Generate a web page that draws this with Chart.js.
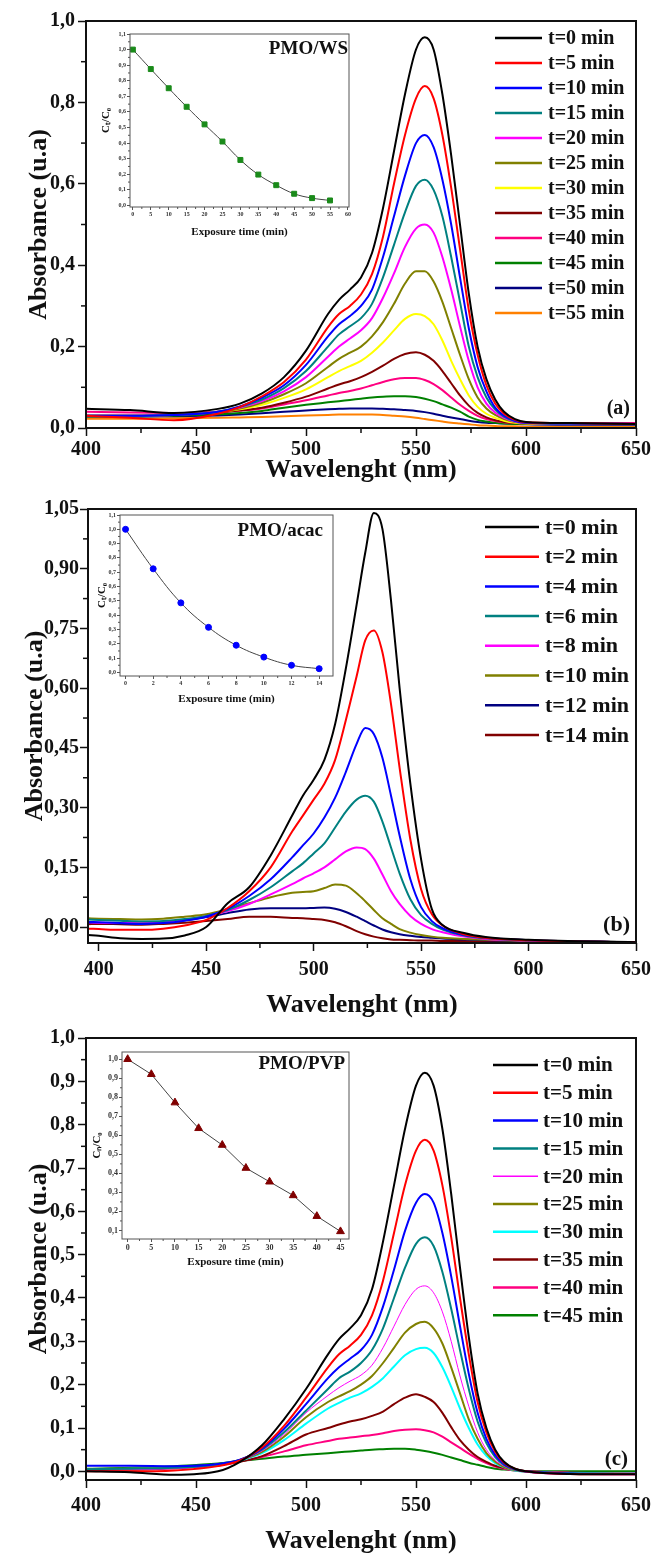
<!DOCTYPE html>
<html><head><meta charset="utf-8">
<script src="https://cdn.jsdelivr.net/npm/chart.js@4.4.1/dist/chart.umd.min.js"></script>
<style>
html,body{margin:0;padding:0;background:#fff;overflow:hidden;}
#wrap{position:relative;width:652px;height:1560px;overflow:hidden;background:#fff;}
canvas{position:absolute;display:block;}
</style></head><body><div id="wrap">
<canvas id="ca" style="left:0;top:0" width="652" height="505"></canvas>
<canvas id="cb" style="left:0;top:490px" width="652" height="550"></canvas>
<canvas id="cc" style="left:0;top:1020px" width="652" height="540"></canvas>
<canvas id="ia" style="left:95px;top:24px" width="260" height="220"></canvas>
<canvas id="ib" style="left:95px;top:505px" width="245" height="205"></canvas>
<canvas id="ic" style="left:90px;top:1045px" width="265" height="230"></canvas>
</div>
<script>
// ---------------- DATA ----------------
// Panel (a) PMO/WS
const WL_A = [400,420,440,460,470,480,490,500,510,515,520,525,530,535,540,545,550,554,558,562,566,570,574,578,582,586,590,595,600,620,650];
const A_0  = [0.047,0.044,0.037,0.047,0.060,0.085,0.125,0.190,0.280,0.315,0.340,0.370,0.430,0.540,0.680,0.820,0.930,0.960,0.930,0.820,0.670,0.500,0.330,0.200,0.120,0.070,0.040,0.022,0.015,0.012,0.010];
const A_5  = [0.030,0.025,0.019,0.035,0.052,0.078,0.113,0.168,0.248,0.280,0.300,0.328,0.378,0.470,0.600,0.720,0.810,0.840,0.810,0.720,0.590,0.440,0.290,0.180,0.105,0.060,0.035,0.020,0.014,0.012,0.010];
const A_10 = [0.030,0.030,0.032,0.040,0.053,0.075,0.105,0.155,0.225,0.255,0.275,0.300,0.340,0.420,0.520,0.620,0.700,0.720,0.690,0.610,0.500,0.370,0.245,0.150,0.090,0.050,0.030,0.018,0.013,0.011,0.010];
const A_15 = [0.030,0.030,0.032,0.040,0.052,0.070,0.098,0.140,0.200,0.230,0.250,0.270,0.305,0.370,0.450,0.530,0.595,0.610,0.585,0.520,0.420,0.310,0.200,0.125,0.075,0.045,0.028,0.017,0.013,0.011,0.010];
const A_20 = [0.030,0.030,0.032,0.040,0.050,0.066,0.090,0.125,0.175,0.200,0.220,0.240,0.270,0.320,0.380,0.445,0.490,0.500,0.480,0.420,0.340,0.250,0.165,0.100,0.060,0.038,0.025,0.016,0.012,0.011,0.010];
const A_25 = [0.030,0.030,0.032,0.040,0.048,0.062,0.083,0.110,0.150,0.170,0.185,0.200,0.225,0.260,0.305,0.355,0.385,0.385,0.360,0.310,0.245,0.180,0.120,0.075,0.048,0.032,0.022,0.015,0.012,0.011,0.010];
const A_30 = [0.030,0.030,0.032,0.039,0.046,0.057,0.074,0.095,0.125,0.140,0.152,0.165,0.185,0.210,0.240,0.268,0.280,0.275,0.255,0.215,0.165,0.120,0.080,0.052,0.035,0.025,0.018,0.013,0.011,0.010,0.010];
const A_35 = [0.030,0.030,0.032,0.038,0.043,0.050,0.062,0.077,0.097,0.107,0.115,0.125,0.138,0.153,0.170,0.182,0.186,0.180,0.165,0.140,0.110,0.080,0.055,0.037,0.026,0.019,0.015,0.012,0.011,0.010,0.010];
const A_40 = [0.040,0.038,0.037,0.040,0.043,0.048,0.058,0.068,0.080,0.086,0.091,0.097,0.105,0.113,0.120,0.123,0.123,0.118,0.108,0.093,0.075,0.057,0.042,0.030,0.022,0.017,0.014,0.012,0.012,0.012,0.012];
const A_45 = [0.028,0.028,0.030,0.034,0.037,0.042,0.050,0.057,0.063,0.066,0.069,0.072,0.075,0.077,0.078,0.078,0.076,0.072,0.066,0.058,0.050,0.040,0.028,0.020,0.016,0.013,0.011,0.010,0.010,0.010,0.010];
const A_50 = [0.028,0.028,0.029,0.031,0.033,0.036,0.040,0.043,0.046,0.047,0.048,0.048,0.048,0.047,0.046,0.044,0.042,0.039,0.035,0.030,0.026,0.022,0.018,0.015,0.013,0.012,0.011,0.010,0.009,0.008,0.008];
const A_55 = [0.023,0.023,0.024,0.025,0.026,0.027,0.029,0.031,0.032,0.033,0.033,0.033,0.033,0.032,0.030,0.028,0.025,0.022,0.019,0.016,0.013,0.011,0.009,0.007,0.006,0.005,0.004,0.004,0.003,0.003,0.003];
const LABELS_A = ['t=0 min','t=5 min','t=10 min','t=15 min','t=20 min','t=25 min','t=30 min','t=35 min','t=40 min','t=45 min','t=50 min','t=55 min'];

// Panel (b) PMO/acac
const WL_B = [395,400,410,420,430,440,450,460,470,480,490,495,500,505,510,515,520,524,528,532,536,540,545,550,555,560,570,580,600,650];
const B_0  = [-0.020,-0.022,-0.028,-0.030,-0.029,-0.021,0.000,0.060,0.100,0.180,0.280,0.330,0.370,0.420,0.510,0.650,0.810,0.940,1.040,1.000,0.820,0.600,0.360,0.170,0.045,0.005,-0.015,-0.025,-0.032,-0.038];
const B_2  = [-0.004,-0.005,-0.007,-0.007,-0.004,0.004,0.018,0.048,0.090,0.150,0.240,0.280,0.320,0.360,0.420,0.520,0.630,0.720,0.745,0.690,0.560,0.400,0.220,0.095,0.032,0.004,-0.018,-0.027,-0.033,-0.038];
const B_4  = [0.013,0.012,0.010,0.008,0.010,0.016,0.026,0.046,0.078,0.120,0.175,0.205,0.235,0.275,0.325,0.390,0.460,0.500,0.485,0.425,0.330,0.230,0.120,0.050,0.015,-0.003,-0.020,-0.027,-0.033,-0.038];
const B_6  = [0.019,0.018,0.016,0.014,0.015,0.020,0.028,0.043,0.068,0.100,0.140,0.160,0.185,0.210,0.250,0.290,0.320,0.330,0.315,0.265,0.200,0.135,0.070,0.030,0.008,-0.006,-0.021,-0.028,-0.033,-0.038];
const B_8  = [0.012,0.011,0.010,0.010,0.012,0.018,0.027,0.040,0.058,0.082,0.108,0.122,0.135,0.150,0.170,0.190,0.200,0.196,0.172,0.132,0.090,0.058,0.028,0.008,-0.005,-0.013,-0.024,-0.030,-0.034,-0.038];
const B_10 = [0.022,0.021,0.020,0.019,0.021,0.026,0.032,0.045,0.060,0.075,0.086,0.088,0.090,0.098,0.107,0.104,0.085,0.065,0.043,0.022,0.008,-0.005,-0.014,-0.020,-0.024,-0.027,-0.030,-0.032,-0.035,-0.038];
const B_12 = [0.010,0.010,0.009,0.009,0.011,0.017,0.025,0.035,0.044,0.047,0.047,0.047,0.048,0.049,0.046,0.038,0.026,0.015,0.004,-0.006,-0.013,-0.018,-0.022,-0.025,-0.027,-0.029,-0.031,-0.033,-0.035,-0.038];
const B_14 = [0.007,0.008,0.007,0.006,0.008,0.011,0.015,0.020,0.026,0.026,0.023,0.022,0.020,0.018,0.012,0.002,-0.010,-0.018,-0.024,-0.028,-0.031,-0.032,-0.033,-0.034,-0.034,-0.035,-0.035,-0.036,-0.036,-0.038];
const LABELS_B = ['t=0 min','t=2 min','t=4 min','t=6 min','t=8 min','t=10 min','t=12 min','t=14 min'];

// Panel (c) PMO/PVP
const WL_C = [400,420,440,460,470,480,490,500,510,515,520,525,530,535,540,545,550,554,558,562,566,570,574,578,582,586,590,595,600,620,650];
const C_0  = [0.000,-0.002,-0.008,0.000,0.022,0.060,0.120,0.190,0.270,0.305,0.330,0.360,0.420,0.530,0.660,0.790,0.890,0.920,0.890,0.790,0.640,0.470,0.310,0.180,0.100,0.050,0.022,0.006,0.000,-0.006,-0.007];
const C_5  = [0.000,0.000,0.002,0.012,0.025,0.055,0.105,0.170,0.240,0.270,0.290,0.315,0.360,0.440,0.550,0.660,0.740,0.765,0.740,0.660,0.540,0.400,0.270,0.160,0.090,0.045,0.020,0.006,0.000,-0.006,-0.007];
const C_10 = [0.013,0.013,0.012,0.017,0.027,0.052,0.098,0.155,0.215,0.240,0.260,0.280,0.315,0.380,0.465,0.555,0.620,0.640,0.620,0.550,0.450,0.335,0.225,0.135,0.075,0.038,0.017,0.005,0.000,-0.005,-0.006];
const C_15 = [0.005,0.006,0.008,0.015,0.026,0.050,0.090,0.140,0.190,0.215,0.230,0.250,0.280,0.330,0.400,0.470,0.525,0.540,0.520,0.460,0.375,0.280,0.190,0.115,0.065,0.033,0.015,0.004,0.000,-0.005,-0.006];
const C_20 = [0.003,0.004,0.006,0.014,0.025,0.047,0.085,0.135,0.175,0.193,0.208,0.222,0.245,0.285,0.335,0.385,0.420,0.428,0.412,0.368,0.300,0.220,0.150,0.090,0.050,0.026,0.012,0.003,-0.002,-0.007,-0.008];
const C_25 = [0.005,0.006,0.008,0.015,0.026,0.045,0.080,0.125,0.160,0.173,0.185,0.200,0.220,0.250,0.285,0.320,0.340,0.345,0.330,0.295,0.240,0.180,0.120,0.075,0.042,0.022,0.010,0.003,-0.001,-0.005,-0.006];
const C_30 = [0.005,0.006,0.009,0.016,0.025,0.042,0.072,0.110,0.145,0.158,0.170,0.180,0.195,0.215,0.242,0.268,0.282,0.285,0.273,0.240,0.195,0.145,0.100,0.062,0.036,0.019,0.009,0.002,-0.001,-0.004,-0.005];
const C_35 = [0.003,0.004,0.007,0.015,0.022,0.035,0.058,0.085,0.100,0.108,0.115,0.120,0.128,0.138,0.155,0.170,0.178,0.172,0.160,0.135,0.102,0.072,0.050,0.033,0.022,0.013,0.008,0.003,0.000,-0.005,-0.006];
const C_40 = [0.003,0.005,0.008,0.016,0.023,0.033,0.046,0.060,0.070,0.075,0.078,0.081,0.084,0.088,0.093,0.096,0.097,0.095,0.090,0.080,0.067,0.054,0.041,0.029,0.019,0.011,0.006,0.002,0.000,-0.003,-0.004];
const C_45 = [0.006,0.008,0.012,0.018,0.024,0.029,0.034,0.038,0.042,0.044,0.046,0.048,0.050,0.051,0.052,0.052,0.050,0.047,0.043,0.038,0.032,0.026,0.020,0.015,0.010,0.006,0.004,0.002,0.001,0.000,0.000];
const LABELS_C = ['t=0 min','t=5 min','t=10 min','t=15 min','t=20 min','t=25 min','t=30 min','t=35 min','t=40 min','t=45 min'];

// Insets: C/C0 vs exposure time
const INA_T = [0,5,10,15,20,25,30,35,40,45,50,55];
const INA_C = [1.000,0.875,0.752,0.633,0.520,0.410,0.292,0.198,0.130,0.075,0.047,0.032];
const INB_T = [0,2,4,6,8,10,12,14];
const INB_C = [1.000,0.724,0.486,0.315,0.190,0.107,0.050,0.026];
const INC_T = [0,5,10,15,20,25,30,35,40,45];
const INC_C = [1.000,0.921,0.772,0.637,0.549,0.428,0.356,0.284,0.175,0.095];

// Tick values
const X_TICKS = [400,450,500,550,600,650];
const X_MINOR = [425,475,525,575,625];
const YA_TICKS = [0,0.2,0.4,0.6,0.8,1.0];
const YA_MINOR = [0.1,0.3,0.5,0.7,0.9];
const YB_TICKS = [0,0.15,0.30,0.45,0.60,0.75,0.90,1.05];
const YB_MINOR = [0.075,0.225,0.375,0.525,0.675,0.825,0.975];
const YC_TICKS = [0,0.1,0.2,0.3,0.4,0.5,0.6,0.7,0.8,0.9,1.0];
const YC_MINOR = [0.05,0.15,0.25,0.35,0.45,0.55,0.65,0.75,0.85,0.95];
const IA_XT = [0,5,10,15,20,25,30,35,40,45,50,55,60];
const IA_XM = [2.5,7.5,12.5,17.5,22.5,27.5,32.5,37.5,42.5,47.5,52.5,57.5];
const IA_YT = [0,0.1,0.2,0.3,0.4,0.5,0.6,0.7,0.8,0.9,1.0,1.1];
const IA_YM = [0.05,0.15,0.25,0.35,0.45,0.55,0.65,0.75,0.85,0.95,1.05];
const IB_XT = [0,2,4,6,8,10,12,14];
const IB_XM = [1,3,5,7,9,11,13];
const IB_YT = [0,0.1,0.2,0.3,0.4,0.5,0.6,0.7,0.8,0.9,1.0,1.1];
const IB_YM = [0.05,0.15,0.25,0.35,0.45,0.55,0.65,0.75,0.85,0.95,1.05];
const IC_XT = [0,5,10,15,20,25,30,35,40,45];
const IC_XM = [2.5,7.5,12.5,17.5,22.5,27.5,32.5,37.5,42.5];
const IC_YT = [0.1,0.2,0.3,0.4,0.5,0.6,0.7,0.8,0.9,1.0];
const IC_YM = [0.15,0.25,0.35,0.45,0.55,0.65,0.75,0.85,0.95];

// ---------------- STYLE / RENDER ----------------
const FONT = "'Liberation Serif','Times New Roman',serif";
const INK = '#111';
const comma = d => v => Number(v).toFixed(d).replace('.', ',');

function decoPlugin(cfg) {
  return {
    id: 'deco',
    afterDraw(chart) {
      const c = chart.ctx, a = chart.chartArea, sx = chart.scales.x, sy = chart.scales.y;
      c.save();
      c.strokeStyle = cfg.frameColor; c.lineWidth = cfg.frameWidth;
      c.strokeRect(a.left, a.top, a.right - a.left, a.bottom - a.top);
      c.lineWidth = cfg.minorWidth;
      cfg.xMinor.forEach(v => { const x = sx.getPixelForValue(v); c.beginPath(); c.moveTo(x, a.bottom); c.lineTo(x, a.bottom + cfg.minorLen); c.stroke(); });
      cfg.yMinor.forEach(v => { const y = sy.getPixelForValue(v); c.beginPath(); c.moveTo(a.left, y); c.lineTo(a.left - cfg.minorLen, y); c.stroke(); });
      if (cfg.tag) {
        c.fillStyle = INK; c.font = 'bold ' + cfg.tag.size + 'px ' + FONT;
        c.textAlign = 'right'; c.textBaseline = 'middle';
        const y = cfg.tag.fromTop ? a.top + cfg.tag.dy : a.bottom - cfg.tag.dy;
        c.fillText(cfg.tag.text, a.right - cfg.tag.dx, y);
      }
      c.restore();
    }
  };
}

function legendPlugin(L) {
  return {
    id: 'spectraLegend',
    afterDatasetsDraw(chart) {
      const c = chart.ctx;
      c.save();
      chart.data.datasets.forEach((ds, i) => {
        const y = L.y0 + i * L.dy;
        c.strokeStyle = ds.borderColor; c.lineWidth = ds.borderWidth + 0.5;
        c.beginPath(); c.moveTo(L.x0, y); c.lineTo(L.x1, y); c.stroke();
        c.fillStyle = INK; c.font = 'bold ' + L.size + 'px ' + FONT;
        c.textAlign = 'left'; c.textBaseline = 'middle';
        c.fillText(ds.label, L.tx, y + 1);
      });
      c.restore();
    }
  };
}

function makeMain(id, o) {
  const datasets = o.series.map((s, i) => ({
    label: o.labels[i],
    data: o.wl.map((x, j) => ({ x: x, y: s[j] })),
    borderColor: o.colors[i],
    borderWidth: o.widths ? o.widths[i] : 2,
    pointRadius: 0,
    cubicInterpolationMode: 'monotone',
    fill: false
  }));
  return new Chart(document.getElementById(id), {
    type: 'line',
    data: { datasets },
    options: {
      responsive: false, animation: false, devicePixelRatio: 1,
      layout: { padding: { left: 0, top: o.padTop, right: 16, bottom: 0 } },
      plugins: { legend: { display: false }, tooltip: { enabled: false } },
      scales: {
        x: {
          type: 'linear', min: o.xmin, max: 650,
          afterBuildTicks: s => { s.ticks = X_TICKS.map(v => ({ value: v })); },
          afterFit: s => { s.height = o.xh; s.paddingRight = 0; s.paddingLeft = 0; },
          grid: { drawOnChartArea: false, drawTicks: true, tickLength: 8, tickWidth: 1.5, tickColor: INK },
          border: { display: false },
          ticks: { color: INK, font: { family: FONT, size: 20, weight: 'bold' }, padding: o.xtp, maxRotation: 0, autoSkip: false, callback: v => String(v) },
          title: { display: true, text: 'Wavelenght (nm)', color: INK, font: { family: FONT, size: 26, weight: 'bold' }, padding: { top: 0, bottom: o.xTitlePad } }
        },
        y: {
          type: 'linear', min: o.ymin, max: o.ymax,
          afterBuildTicks: s => { s.ticks = o.yt.map(v => ({ value: v })); },
          afterFit: s => { s.width = o.yw; s.paddingTop = 0; s.paddingBottom = 0; },
          grid: { drawOnChartArea: false, drawTicks: true, tickLength: 8, tickWidth: 1.5, tickColor: INK },
          border: { display: false },
          ticks: { color: INK, font: { family: FONT, size: 20, weight: 'bold' }, padding: o.ytp, autoSkip: false, callback: comma(o.yd) },
          title: { display: true, text: 'Absorbance (u.a)', color: INK, font: { family: FONT, size: 26, weight: 'bold' }, padding: { top: o.yTitlePad, bottom: 0 } }
        }
      }
    },
    plugins: [
      decoPlugin({ frameColor: INK, frameWidth: 2, minorWidth: 1.5, minorLen: 5, xMinor: X_MINOR, yMinor: o.ym, tag: o.tag }),
      legendPlugin(o.legend)
    ]
  });
}

function makeInset(id, o) {
  return new Chart(document.getElementById(id), {
    type: 'line',
    data: { datasets: [{
      data: o.t.map((x, j) => ({ x: x, y: o.c[j] })),
      borderColor: '#444', borderWidth: 1, tension: o.tension,
      pointStyle: o.ps, pointRadius: o.pr, pointBackgroundColor: o.pc, pointBorderColor: o.pc, pointBorderWidth: 1,
      clip: false
    }] },
    options: {
      responsive: false, animation: false, devicePixelRatio: 1,
      layout: { padding: { left: 0, top: o.padTop, right: o.padRight, bottom: 0 } },
      plugins: { legend: { display: false }, tooltip: { enabled: false } },
      scales: {
        x: {
          type: 'linear', min: o.xmin, max: o.xmax,
          afterBuildTicks: s => { s.ticks = o.xt.map(v => ({ value: v })); },
          afterFit: s => { s.height = o.xh; s.paddingRight = 0; s.paddingLeft = 0; },
          grid: { drawOnChartArea: false, drawTicks: true, tickLength: 3, tickWidth: 1, tickColor: '#555' },
          border: { display: false },
          ticks: { color: '#333', font: { family: FONT, size: o.fs, weight: 'bold' }, padding: 1, maxRotation: 0, autoSkip: false, callback: v => String(v) },
          title: { display: true, text: 'Exposure time (min)', color: INK, font: { family: FONT, size: 11, weight: 'bold' }, padding: { top: 0, bottom: o.xTitlePad } }
        },
        y: {
          type: 'linear', min: o.ymin, max: o.ymax,
          afterBuildTicks: s => { s.ticks = o.yt.map(v => ({ value: v })); },
          afterFit: s => { s.width = o.yw; s.paddingTop = 0; s.paddingBottom = 0; },
          grid: { drawOnChartArea: false, drawTicks: true, tickLength: 3, tickWidth: 1, tickColor: '#555' },
          border: { display: false },
          ticks: { color: '#333', font: { family: FONT, size: o.fs, weight: 'bold' }, padding: 1, autoSkip: false, callback: comma(1) },
          title: { display: true, text: o.ytitle, color: INK, font: { family: FONT, size: 11, weight: 'bold' }, padding: { top: o.yTitlePad, bottom: 0 } }
        }
      }
    },
    plugins: [decoPlugin({ frameColor: '#555', frameWidth: 1, minorWidth: 1, minorLen: 2, xMinor: o.xm, yMinor: o.ym, tag: o.tag })]
  });
}

// Panel (a)
makeMain('ca', {
  wl: WL_A, series: [A_0, A_5, A_10, A_15, A_20, A_25, A_30, A_35, A_40, A_45, A_50, A_55], labels: LABELS_A,
  colors: ['#000000','#ff0000','#0000ff','#008080','#ff00ff','#808000','#ffff00','#800000','#ff0080','#008000','#000080','#ff8000'],
  xmin: 400, ymin: 0, ymax: 1.0, yt: YA_TICKS, ym: YA_MINOR, yd: 1,
  padTop: 21, xh: 77, yw: 86, xtp: 2, xTitlePad: 19, ytp: 3, yTitlePad: 24,
  tag: { text: '(a)', size: 20, dx: 6, dy: 19 },
  legend: { x0: 495, x1: 542, tx: 548, y0: 38, dy: 25, size: 20 }
});
// Panel (b)
makeMain('cb', {
  wl: WL_B, series: [B_0, B_2, B_4, B_6, B_8, B_10, B_12, B_14], labels: LABELS_B,
  colors: ['#000000','#ff0000','#0000ff','#008080','#ff00ff','#808000','#000080','#800000'],
  xmin: 395, ymin: -0.04, ymax: 1.05, yt: YB_TICKS, ym: YB_MINOR, yd: 2,
  padTop: 19, xh: 97, yw: 88, xtp: 7, xTitlePad: 19, ytp: 1, yTitlePad: 20,
  tag: { text: '(b)', size: 22, dx: 6, dy: 18 },
  legend: { x0: 485, x1: 539, tx: 545, y0: 37, dy: 29.7, size: 22 }
});
// Panel (c)
makeMain('cc', {
  wl: WL_C, series: [C_0, C_5, C_10, C_15, C_20, C_25, C_30, C_35, C_40, C_45], labels: LABELS_C,
  colors: ['#000000','#ff0000','#0000ff','#008080','#ff00ff','#808000','#00ffff','#800000','#ff0080','#008000'],
  widths: [2,2,2,2,1,2,2,2,2,2],
  xmin: 400, ymin: -0.02, ymax: 1.0, yt: YC_TICKS, ym: YC_MINOR, yd: 1,
  padTop: 18, xh: 80, yw: 86, xtp: 6, xTitlePad: 3, ytp: 3, yTitlePad: 24,
  tag: { text: '(c)', size: 21, dx: 8, dy: 20 },
  legend: { x0: 493, x1: 538, tx: 543, y0: 45, dy: 27.8, size: 21 }
});

// Insets
makeInset('ia', {
  t: INA_T, c: INA_C, tension: 0.4, ps: 'rect', pr: 3.5, pc: '#1a8a1a',
  xmin: -0.8, xmax: 60.3, xt: IA_XT, xm: IA_XM, ymin: -0.01, ymax: 1.1, yt: IA_YT, ym: IA_YM,
  padTop: 10, padRight: 6, xh: 37, yw: 35, fs: 6, xTitlePad: 5, yTitlePad: 5, ytitle: 'Cₜ/C₀',
  tag: { text: 'PMO/WS', size: 19, dx: 1, dy: 15, fromTop: true }
});
makeInset('ib', {
  t: INB_T, c: INB_C, tension: 0.4, ps: 'circle', pr: 3, pc: '#0000ff',
  xmin: -0.4, xmax: 15.0, xt: IB_XT, xm: IB_XM, ymin: -0.025, ymax: 1.1, yt: IB_YT, ym: IB_YM,
  padTop: 10, padRight: 7, xh: 34, yw: 25, fs: 6, xTitlePad: 4, yTitlePad: 1, ytitle: 'Cₜ/C₀',
  tag: { text: 'PMO/acac', size: 19, dx: 10, dy: 16, fromTop: true }
});
makeInset('ic', {
  t: INC_T, c: INC_C, tension: 0, ps: 'triangle', pr: 4.5, pc: '#800000',
  xmin: -1.2, xmax: 46.8, xt: IC_XT, xm: IC_XM, ymin: 0.055, ymax: 1.038, yt: IC_YT, ym: IC_YM,
  padTop: 7, padRight: 6, xh: 36, yw: 32, fs: 8, xTitlePad: 6, yTitlePad: 1, ytitle: 'Cₙ/C₀',
  tag: { text: 'PMO/PVP', size: 19, dx: 4, dy: 12, fromTop: true }
});
</script>
</body></html>
